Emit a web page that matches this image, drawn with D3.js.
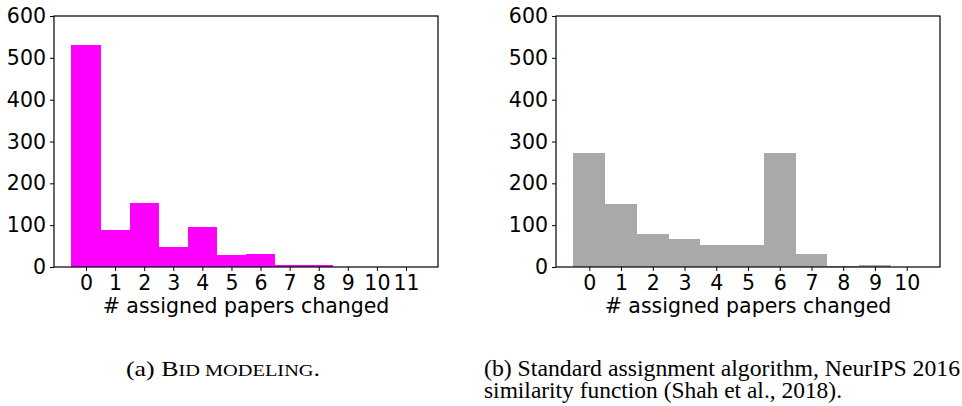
<!DOCTYPE html>
<html><head><meta charset="utf-8">
<script src="https://cdn.jsdelivr.net/npm/d3@7"></script>
<style>body{margin:0;background:#fff;} svg{display:block;}</style>
</head><body>
<svg id="chart" width="962" height="406"></svg>
<script>
const categoriesA = [0,1,2,3,4,5,6,7,8,9,10,11];
const valuesA = [531, 88, 153, 48, 96, 29, 31, 5, 5, 0, 0, 0];
const categoriesB = [0,1,2,3,4,5,6,7,8,9,10];
const valuesB = [273, 151, 79, 67, 53, 53, 273, 31, 2, 4, 0];
const yTicks = [0,100,200,300,400,500,600];
const xLabel = "# assigned papers changed";

const svg = d3.select("#chart");
const fontTick = "'DejaVu Sans', sans-serif";
const fs = 20.5;

function panel(left, right, cats, vals, color, xDomain) {
  const top = 16, bottom = 267;
  const x = d3.scaleLinear().domain(xDomain).range([left, right]);
  const y = d3.scaleLinear().domain([0, 600]).range([bottom, top]);
  const g = svg.append("g");
  g.selectAll("rect.bar").data(cats).enter().append("rect")
    .attr("class","bar")
    .attr("x", d => x(d - 0.5))
    .attr("width", d => x(d + 0.5) - x(d - 0.5))
    .attr("y", (d,i) => y(vals[i]))
    .attr("height", (d,i) => bottom - y(vals[i]))
    .attr("fill", color)
    .attr("shape-rendering","crispEdges");
  g.append("rect").attr("x", left).attr("y", top).attr("width", right-left).attr("height", bottom-top)
    .attr("fill","none").attr("stroke","#000").attr("stroke-width",1.2);
  const yAxis = d3.axisLeft(y).tickValues(yTicks).tickSize(4).tickPadding(4);
  const ya = g.append("g").attr("transform", `translate(${left},0)`).call(yAxis);
  const xAxis = d3.axisBottom(x).tickValues(cats).tickSize(4).tickPadding(4).tickFormat(d3.format("d"));
  const xa = g.append("g").attr("transform", `translate(0,${bottom})`).call(xAxis);
  [ya, xa].forEach(a => {
    a.select(".domain").remove();
    a.selectAll("line").attr("stroke","#000").attr("stroke-width",1);
    a.selectAll("text").attr("font-family", fontTick).attr("font-size", fs).attr("fill","#000");
  });
  g.append("text").attr("x", (left+right)/2).attr("y", 313)
    .attr("text-anchor","middle").attr("font-family", fontTick).attr("font-size", fs)
    .attr("fill","#000").text(xLabel);
  return {x, y};
}

panel(54, 438, categoriesA, valuesA, "#ff00ff", [-1.1, 12.1]);
panel(556, 940, categoriesB, valuesB, "#a9a9a9", [-1.05, 11.05]);

// captions
const serif = "'Liberation Serif', 'Times New Roman', serif";
const capA = svg.append("text").attr("x", 126).attr("y", 376)
  .attr("font-family", serif).attr("font-size", 21).attr("fill","#000")
  .attr("textLength", 194).attr("lengthAdjust","spacingAndGlyphs");
capA.append("tspan").text("(a) B");
capA.append("tspan").attr("font-size", 16.5).text("ID MODELING");
capA.append("tspan").text(".");

svg.append("text").attr("x", 484).attr("y", 376)
  .attr("font-family", serif).attr("font-size", 23).attr("fill","#000")
  .attr("textLength", 476).attr("lengthAdjust","spacingAndGlyphs")
  .text("(b) Standard assignment algorithm, NeurIPS 2016");
svg.append("text").attr("x", 484).attr("y", 398)
  .attr("font-family", serif).attr("font-size", 23).attr("fill","#000")
  .attr("textLength", 358).attr("lengthAdjust","spacingAndGlyphs")
  .text("similarity function (Shah et al., 2018).");
</script>
</body></html>
